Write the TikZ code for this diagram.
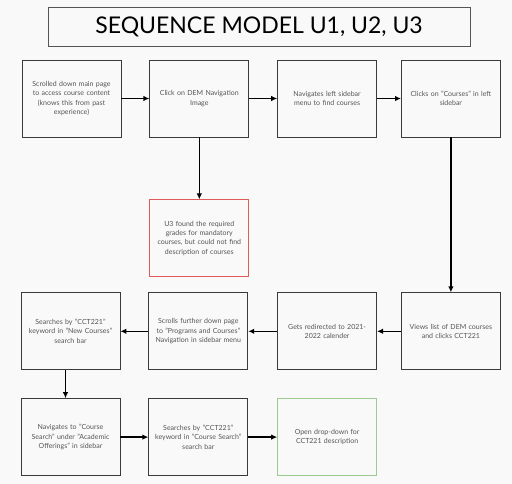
\documentclass[tikz,border=0pt]{standalone}
\usepackage{fontspec}
\setmainfont{Lato}
\usepackage{tikz}
\usetikzlibrary{positioning}
\usetikzlibrary{arrows.meta}
\definecolor{bg}{HTML}{F9F9F9}
\definecolor{edge}{HTML}{3A3A3A}
\definecolor{txt}{HTML}{555555}
\definecolor{fail}{HTML}{E05A5A}
\definecolor{done}{HTML}{9CCB92}

\begin{document}
\begin{tikzpicture}[x=1pt, y=-1pt,
    main/.style = {draw=edge, fill=bg, line width=0.8pt, minimum width=99pt, minimum height=77pt,
                   inner sep=3pt, text width=92pt, align=center, text=txt, font=\fontsize{7}{9.3}\selectfont},
    go/.style = {-{Latex[length=6pt,width=5.5pt]}, line width=1.5pt}]
      \fill[bg] (0,0) rectangle (512,484);
      \node[draw=txt, line width=0.8pt, minimum width=422pt, minimum height=39pt, font=\fontsize{23}{26}\selectfont](0) at (259,26.5){SEQUENCE MODEL U1, U2, U3};
      % top row
      \node[main](1) at (71.5,98.5){Scrolled down main page\\to access course content\\(knows this from past\\experience)};
      \node[main](2)[right=28pt of 1]{Click on DEM Navigation\\Image\\[18pt]};
      \node[main](3)[right=28pt of 2]{Navigates left sidebar\\menu to find courses\\[18pt]};
      \node[main](4)[right=24pt of 3]{Clicks on "Courses" in left\\sidebar\\[18pt]};
      \node[main, draw=fail](5)[below=62pt of 2]{U3 found the required\\grades for mandatory\\courses, but could not find\\description of courses};
      % middle row
      \node[main](6)[below=155pt of 4]{Views list of DEM courses\\and clicks CCT221};
      \node[main](7)[left=24pt of 6]{Gets redirected to 2021-\\2022 calender};
      \node[main](8)[left=29pt of 7]{Scrolls further down page\\to "Programs and Courses"\\Navigation in sidebar menu\\[6pt]};
      \node[main](9)[left=28pt of 8]{Searches by "CCT221"\\keyword in "New Courses"\\search bar\\[6pt]};
      % bottom row
      \node[main](10)[below=28pt of 9]{Navigates to "Course\\Search" under "Academic\\Offerings" in sidebar};
      \node[main](11)[right=28pt of 10]{Searches by "CCT221"\\keyword in "Course Search"\\search bar};
      \node[main, draw=done](12)[right=29pt of 11]{Open drop-down for\\CCT221 description\\[6pt]};
      \draw[go] (1) -- (2);
      \draw[go] (2) -- (3);
      \draw[go] (3) -- (4);
      \draw[go] (2) -- (5);
      \draw[go] (4) -- (6);
      \draw[go] (6) -- (7);
      \draw[go] (7) -- (8);
      \draw[go] (8) -- (9);
      \draw[go] ([xshift=-5pt]9.south) -- ([xshift=-5pt]10.north);
      \draw[go] (10) -- (11);
      \draw[go] (11) -- (12);
    \end{tikzpicture}
\end{document}
